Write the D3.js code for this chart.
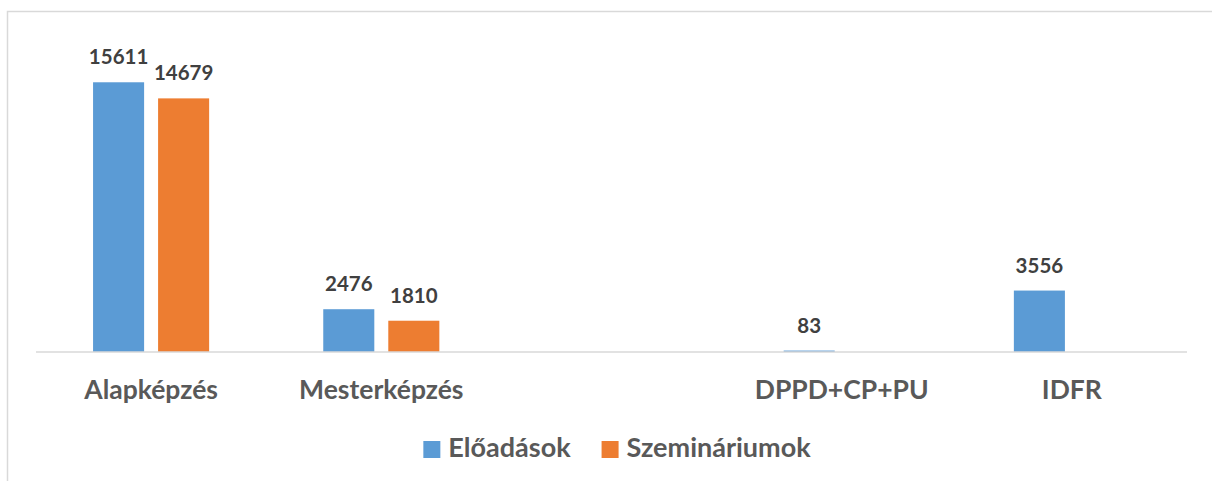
<!DOCTYPE html>
<html>
<head>
<meta charset="utf-8">
<script src="https://cdn.jsdelivr.net/npm/d3@7"></script>
<style>
  html, body { margin: 0; padding: 0; background: #fff; }
  svg { display: block; font-family: Lato, "Open Sans", sans-serif; }
</style>
</head>
<body>
<div id="chart"></div>
<script>
// categories (the empty one is a blank slot in the original chart)
let categories = ["Alapképzés", "Mesterképzés", "", "DPPD+CP+PU", "IDFR"];
let seriesNames = ["Előadások", "Szemináriumok"];
let eloadasok = [15611, 2476, null, 83, 3556];
let szeminariumok = [14679, 1810, null, null, null];
let colors = ["#5b9bd5", "#ed7d31"];

let W = 1212, H = 481;
let plot = { left: 36, right: 1187, top: 41, bottom: 352 };

let svg = d3.select("#chart").append("svg")
  .attr("width", W)
  .attr("height", H);

// chart area border (only top and left visible in the picture)
svg.append("rect")
  .attr("x", 7.5).attr("y", 11.5)
  .attr("width", W + 20).attr("height", H + 20)
  .attr("fill", "none")
  .attr("stroke", "#d9d9d9")
  .attr("stroke-width", 1.5);

let x0 = d3.scaleBand()
  .domain(categories.map((c, i) => i))
  .range([plot.left, plot.right])
  .paddingInner(0.435)
  .paddingOuter(0.2175);

let x1 = d3.scaleBand()
  .domain(seriesNames)
  .range([0, x0.bandwidth()])
  .paddingInner(0.215)
  .paddingOuter(0.1075);

let y = d3.scaleLinear()
  .domain([0, 18000])
  .range([plot.bottom, plot.top]);

let rows = categories.map((c, i) => ({
  cat: i,
  vals: [eloadasok[i], szeminariumok[i]]
}));

let groups = svg.selectAll(".grp")
  .data(rows)
  .enter().append("g")
  .attr("class", "grp")
  .attr("transform", d => "translate(" + x0(d.cat) + ",0)");

let bars = groups.selectAll(".bar")
  .data(d => d.vals.map((v, k) => ({ v: v, k: k })).filter(e => e.v != null))
  .enter();

bars.append("rect")
  .attr("class", "bar")
  .attr("x", d => x1(seriesNames[d.k]))
  .attr("width", x1.bandwidth())
  .attr("y", d => y(d.v))
  .attr("height", d => y(0) - y(d.v))
  .attr("fill", d => colors[d.k]);

bars.append("text")
  .attr("x", d => x1(seriesNames[d.k]) + x1.bandwidth() / 2)
  .attr("y", d => y(d.v) - 18)
  .attr("text-anchor", "middle")
  .attr("font-size", "20.5px")
  .attr("font-weight", "bold")
  .attr("fill", "#404040")
  .text(d => d.v);

// baseline axis
svg.append("line")
  .attr("x1", plot.left).attr("x2", plot.right)
  .attr("y1", y(0)).attr("y2", y(0))
  .attr("stroke", "#d9d9d9")
  .attr("stroke-width", 1.5);

// category labels
svg.selectAll(".catlabel")
  .data(categories)
  .enter().append("text")
  .attr("class", "catlabel")
  .attr("x", (d, i) => x0(i) + x0.bandwidth() / 2)
  .attr("y", 399)
  .attr("text-anchor", "middle")
  .attr("font-size", "26.5px")
  .attr("font-weight", "bold")
  .attr("fill", "#595959")
  .text(d => d);

// legend
let legend = svg.append("g").attr("class", "legend");
let lx = 0;
seriesNames.forEach((name, k) => {
  let item = legend.append("g").attr("transform", "translate(" + lx + ",0)");
  item.append("rect")
    .attr("x", 0).attr("y", 441)
    .attr("width", 17).attr("height", 17)
    .attr("fill", colors[k]);
  let t = item.append("text")
    .attr("x", 25).attr("y", 457)
    .attr("font-size", "27px")
    .attr("font-weight", "bold")
    .attr("fill", "#595959")
    .text(name);
  lx += 25 + t.node().getComputedTextLength() + 31;
});
let legendW = lx - 31;
legend.attr("transform", "translate(" + (617 - legendW / 2) + ",0)");
</script>
</body>
</html>
